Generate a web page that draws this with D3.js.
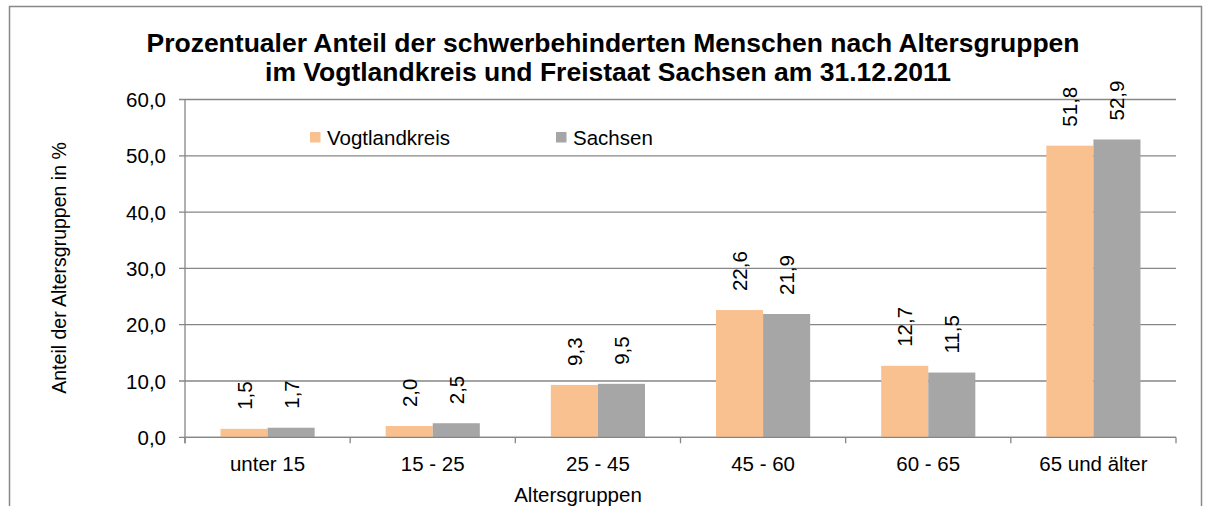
<!DOCTYPE html>
<html>
<head>
<meta charset="utf-8">
<script src="https://cdn.jsdelivr.net/npm/d3@7"></script>
<style>
  body { margin: 0; background: #fff; }
  text { font-family: "Liberation Sans", Arial, sans-serif; fill: #000; }
</style>
</head>
<body>
<svg width="1208" height="506"></svg>
<script>
// data
var categories = ['unter 15', '15 - 25', '25 - 45', '45 - 60', '60 - 65', '65 und älter'];
var seriesNames = ['Vogtlandkreis', 'Sachsen'];
var vogtland = [1.5, 2.0, 9.3, 22.6, 12.7, 51.8];
var sachsen = [1.7, 2.5, 9.5, 21.9, 11.5, 52.9];
var yTicks = [0, 10, 20, 30, 40, 50, 60];
var colors = ['#F9C090', '#A6A6A6'];

var svg = d3.select('svg');
var fmt = function(v){ return v.toFixed(1).replace('.', ','); };
var fs = 20.5;

// outer frame
svg.append('rect').attr('x', 9.5).attr('y', 6.5).attr('width', 1192).attr('height', 510)
  .attr('fill', 'none').attr('stroke', '#888').attr('stroke-width', 1.5);

var pLeft = 185, pRight = 1176, pTop = 99.5, pBottom = 437.3;

var x = d3.scaleBand().domain(categories).range([pLeft, pRight]).paddingInner(0.43).paddingOuter(0.215);
var xs = d3.scaleBand().domain(seriesNames).range([0, x.bandwidth()]);
var y = d3.scaleLinear().domain([0, 60]).range([pBottom, pTop]);

// gridlines + y ticks
svg.selectAll('.grid').data(yTicks).enter().append('line')
  .attr('x1', pLeft - 6).attr('x2', pRight)
  .attr('y1', function(d){ return y(d); }).attr('y2', function(d){ return y(d); })
  .attr('stroke', '#868686').attr('stroke-width', 1.3);

svg.selectAll('.ylab').data(yTicks).enter().append('text')
  .attr('x', 166).attr('y', function(d){ return y(d) + 7.5; })
  .attr('text-anchor', 'end').attr('font-size', fs).text(fmt);

// y axis line
svg.append('line').attr('x1', pLeft).attr('x2', pLeft).attr('y1', pTop).attr('y2', pBottom + 6)
  .attr('stroke', '#868686').attr('stroke-width', 1.3);

// x ticks at category boundaries
var step = (pRight - pLeft) / categories.length;
svg.selectAll('.xtick').data(d3.range(categories.length + 1)).enter().append('line')
  .attr('x1', function(i){ return pLeft + i * step; }).attr('x2', function(i){ return pLeft + i * step; })
  .attr('y1', pBottom).attr('y2', pBottom + 6)
  .attr('stroke', '#868686').attr('stroke-width', 1.3);

// bars + rotated value labels
var series = [vogtland, sachsen];
series.forEach(function(vals, s){
  var g = svg.append('g');
  g.selectAll('rect').data(vals).enter().append('rect')
    .attr('x', function(d, i){ return x(categories[i]) + xs(seriesNames[s]); })
    .attr('width', xs.bandwidth())
    .attr('y', function(d){ return y(d); })
    .attr('height', function(d){ return pBottom - y(d); })
    .attr('fill', colors[s]);
  g.selectAll('text').data(vals).enter().append('text')
    .attr('transform', function(d, i){
      var cx = x(categories[i]) + xs(seriesNames[s]) + xs.bandwidth() / 2 + 7.5;
      return 'translate(' + cx + ',' + (y(d) - 19) + ') rotate(-90)';
    })
    .attr('font-size', fs).text(fmt);
});

// axis baseline over bars
svg.append('line').attr('x1', pLeft).attr('x2', pRight).attr('y1', pBottom).attr('y2', pBottom)
  .attr('stroke', '#868686').attr('stroke-width', 1.3);

// category labels
svg.selectAll('.xlab').data(categories).enter().append('text')
  .attr('x', function(d){ return x(d) + x.bandwidth() / 2; }).attr('y', 471)
  .attr('text-anchor', 'middle').attr('font-size', fs).text(function(d){ return d; });

// axis titles
svg.append('text').attr('x', 578).attr('y', 501.5).attr('text-anchor', 'middle')
  .attr('font-size', fs).text('Altersgruppen');
svg.append('text').attr('transform', 'translate(66,268) rotate(-90)').attr('text-anchor', 'middle')
  .attr('font-size', 19.5).text('Anteil der Altersgruppen in %');

// title
svg.append('text').attr('x', 613).attr('y', 52).attr('text-anchor', 'middle')
  .attr('font-size', 26.5).attr('font-weight', 'bold')
  .text('Prozentualer Anteil der schwerbehinderten Menschen nach Altersgruppen');
svg.append('text').attr('x', 608).attr('y', 80.5).attr('text-anchor', 'middle')
  .attr('font-size', 26.5).attr('font-weight', 'bold')
  .text('im Vogtlandkreis und Freistaat Sachsen am 31.12.2011');

// legend
var legX = [310, 556];
seriesNames.forEach(function(n, i){
  svg.append('rect').attr('x', legX[i]).attr('y', 132).attr('width', 10.5).attr('height', 10.5).attr('fill', colors[i]);
  svg.append('text').attr('x', legX[i] + 17).attr('y', 145).attr('font-size', fs).text(n);
});
</script>
</body>
</html>
